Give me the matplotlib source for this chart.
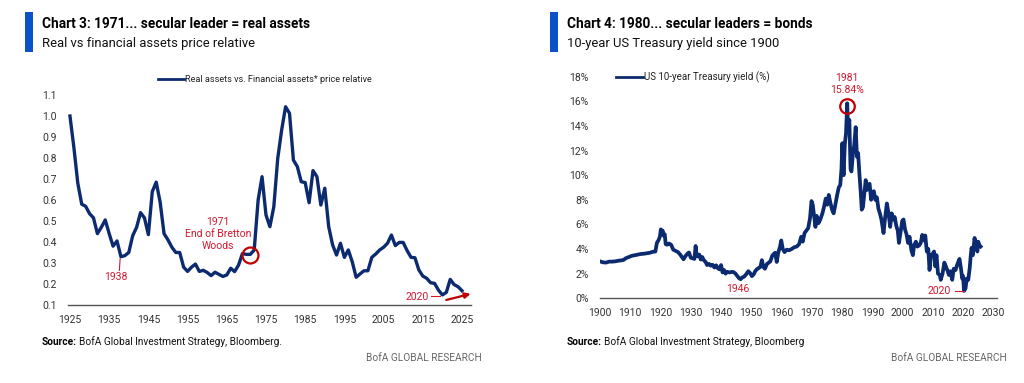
#!/usr/bin/env python3
"""Two-panel BofA style chart: real vs financial assets, and US 10y yield."""

import matplotlib
matplotlib.use("Agg")
import matplotlib.pyplot as plt
from matplotlib.lines import Line2D
from matplotlib.patches import Rectangle

plt.rcParams["font.family"] = ["Roboto", "DejaVu Sans"]

# ──────────────────────────────────────────────────────────────────────────
# Data
# ──────────────────────────────────────────────────────────────────────────
ra_years = list(range(1925, 2026))
ra_values = [
    1.00, 0.85, 0.68, 0.58, 0.57, 0.535, 0.515, 0.44, 0.47, 0.505,    # 1925-34
    0.44, 0.38, 0.405, 0.33, 0.335, 0.35, 0.43, 0.47, 0.54, 0.515,    # 1935-44
    0.435, 0.64, 0.685, 0.59, 0.44, 0.41, 0.375, 0.35, 0.35, 0.28,    # 1945-54
    0.26, 0.28, 0.295, 0.26, 0.265, 0.255, 0.24, 0.256, 0.246, 0.236,  # 1955-64
    0.243, 0.275, 0.259, 0.29, 0.345, 0.341, 0.341, 0.362, 0.60, 0.711,  # 1965-74
    0.529, 0.473, 0.568, 0.798, 0.933, 1.044, 1.013, 0.79, 0.759, 0.687,  # 1975-84
    0.683, 0.587, 0.74, 0.711, 0.576, 0.656, 0.473, 0.386, 0.338, 0.394,  # 1985-94
    0.327, 0.362, 0.306, 0.232, 0.248, 0.263, 0.263, 0.327, 0.343, 0.362,  # 1995-04
    0.375, 0.394, 0.433, 0.383, 0.398, 0.398, 0.359, 0.327, 0.325, 0.267,  # 2005-14
    0.238, 0.227, 0.206, 0.203, 0.171, 0.148, 0.16, 0.222, 0.197, 0.187,  # 2015-24
    0.168,                                                                # 2025
]
ra_yticks = [0.1, 0.2, 0.3, 0.4, 0.5, 0.6, 0.7, 0.8, 0.9, 1.0, 1.1]
ra_xticks = list(range(1925, 2026, 10))

ust_years = [
    1900.0, 1901.0, 1902.0, 1903.0, 1904.0, 1905.0, 1906.0, 1907.0, 1907.8, 1908.5,
    1909.5, 1910.5, 1911.5, 1912.5, 1913.5, 1914.5, 1915.5, 1916.5, 1917.5, 1918.3,
    1918.8, 1919.3, 1919.8, 1920.1, 1920.4, 1920.7, 1921.0, 1921.4, 1921.7, 1922.2,
    1922.8, 1923.5, 1924.2, 1925.0, 1925.8, 1926.5, 1927.2, 1927.6, 1928.3, 1929.0,
    1929.4, 1930.0, 1930.6, 1931.2, 1931.6, 1931.9, 1932.3, 1932.8, 1933.3, 1933.8,
    1934.3, 1934.9, 1935.4, 1936.0, 1936.6, 1937.2, 1937.8, 1938.4, 1938.9, 1939.5,
    1940.0, 1940.5, 1941.0, 1941.5, 1942.0, 1942.8, 1943.5, 1944.2, 1944.8, 1945.4,
    1946.0, 1946.5, 1947.0, 1947.6, 1948.3, 1949.0, 1949.6, 1950.2, 1950.8, 1951.3,
    1951.8, 1952.4, 1953.0, 1953.5, 1954.0, 1954.5, 1955.2, 1955.8, 1956.3, 1956.9,
    1957.4, 1957.9, 1958.4, 1958.9, 1959.5, 1959.9, 1960.4, 1961.0, 1961.7, 1962.5,
    1963.3, 1964.2, 1965.0, 1965.8, 1966.5, 1967.0, 1967.6, 1968.2, 1968.8, 1969.4,
    1969.9, 1970.3, 1970.8, 1971.2, 1971.6, 1972.2, 1972.8, 1973.5, 1974.0, 1974.6,
    1975.1, 1975.6, 1976.1, 1976.7, 1977.2, 1977.7, 1978.3, 1978.9, 1979.4, 1979.8,
    1980.1, 1980.5, 1980.9, 1981.3, 1981.7, 1982.0, 1982.4, 1982.8, 1983.1, 1983.6,
    1984.0, 1984.5, 1984.9, 1985.3, 1985.7, 1986.2, 1986.5, 1986.9, 1987.3, 1987.8,
    1988.2, 1988.7, 1989.1, 1989.6, 1990.1, 1990.5, 1991.0, 1991.5, 1992.0, 1992.6,
    1993.0, 1993.7, 1994.2, 1994.8, 1995.3, 1995.9, 1996.4, 1996.9, 1997.4, 1997.9,
    1998.4, 1998.8, 1999.3, 1999.9, 2000.3, 2000.8, 2001.3, 2001.8, 2002.3, 2002.9,
    2003.4, 2003.8, 2004.4, 2004.9, 2005.5, 2006.0, 2006.5, 2007.0, 2007.5, 2008.0,
    2008.5, 2008.9, 2009.4, 2009.9, 2010.4, 2010.8, 2011.2, 2011.7, 2012.3, 2012.6,
    2013.2, 2013.8, 2014.3, 2014.9, 2015.3, 2015.8, 2016.4, 2016.9, 2017.5, 2018.0,
    2018.8, 2019.3, 2019.7, 2020.0, 2020.3, 2020.8, 2021.2, 2021.7, 2022.2, 2022.5,
    2022.8, 2023.2, 2023.8, 2024.1, 2024.4, 2024.7, 2025.0, 2025.4, 2025.8,
]
ust_yield = [
    3.00, 2.92, 2.90, 2.98, 2.98, 3.00, 3.05, 3.08, 3.12, 3.25,
    3.35, 3.45, 3.50, 3.55, 3.60, 3.62, 3.66, 3.70, 3.78, 3.80,
    4.50, 4.70, 5.00, 5.60, 5.30, 5.50, 5.10, 5.20, 4.40, 4.35,
    4.45, 4.35, 3.95, 3.85, 3.75, 3.55, 3.30, 3.17, 3.45, 3.65,
    3.72, 3.30, 3.25, 3.20, 4.25, 3.60, 3.40, 3.55, 3.15, 3.35,
    3.10, 2.95, 2.70, 2.80, 2.65, 2.72, 2.50, 2.68, 2.45, 2.35,
    2.70, 2.10, 2.30, 2.00, 2.15, 2.10, 2.15, 2.12, 2.00, 1.80,
    1.62, 1.55, 1.70, 1.75, 1.95, 2.20, 2.05, 1.80, 1.95, 2.20,
    2.35, 2.45, 2.55, 3.10, 2.55, 2.40, 2.80, 2.90, 3.00, 3.45,
    3.60, 3.70, 2.95, 3.70, 4.20, 4.70, 4.00, 3.75, 3.95, 3.90,
    4.00, 4.15, 4.20, 4.40, 5.00, 4.60, 5.30, 5.50, 5.70, 6.50,
    7.90, 7.60, 6.60, 5.80, 6.70, 6.10, 6.40, 6.90, 7.40, 8.10,
    7.60, 8.40, 7.80, 7.20, 6.90, 7.50, 8.30, 9.00, 9.20, 10.50,
    12.60, 10.00, 12.50, 13.40, 15.84, 13.50, 14.50, 10.50, 10.30, 11.80,
    12.40, 13.90, 11.50, 11.80, 10.20, 8.50, 7.20, 7.40, 8.40, 9.60,
    8.80, 9.20, 9.30, 8.00, 8.60, 8.70, 8.00, 8.20, 7.30, 6.80,
    6.40, 5.30, 6.50, 7.70, 7.00, 5.80, 6.90, 6.40, 6.60, 5.90,
    5.50, 4.50, 5.30, 6.30, 6.40, 5.60, 5.20, 4.50, 5.00, 3.90,
    3.50, 4.30, 4.60, 4.20, 4.30, 4.50, 5.15, 4.70, 5.10, 3.80,
    4.00, 2.30, 3.50, 3.60, 3.80, 2.60, 3.50, 2.00, 1.90, 1.50,
    2.00, 2.90, 2.60, 2.20, 1.90, 2.20, 1.50, 2.40, 2.30, 2.70,
    3.20, 2.40, 1.60, 1.80, 0.60, 0.80, 1.60, 1.50, 2.50, 3.40,
    4.10, 3.50, 4.90, 4.00, 4.60, 3.80, 4.60, 4.30, 4.20,
]
ust_yticks = list(range(0, 19, 2))
ust_xticks = list(range(1900, 2031, 10))

# ──────────────────────────────────────────────────────────────────────────
# Styling
# ──────────────────────────────────────────────────────────────────────────
NAVY = "#0B2A6F"
RED_TXT = "#D2182F"
RED_CIRC = "#C00000"
BAR_BLUE = "#0B52C9"
TICK_C = "#333333"
AXIS_C = "#555555"
W, H = 1024, 383


def fx(px):
    return px / W


def fy(py):
    return 1 - py / H


def style_axes(ax, pad_y):
    for side in ("top", "right", "left"):
        ax.spines[side].set_visible(False)
    ax.spines["bottom"].set_color(AXIS_C)
    ax.spines["bottom"].set_linewidth(1.0)
    ax.tick_params(axis="both", length=0, labelsize=7.5, colors=TICK_C)
    ax.tick_params(axis="y", pad=pad_y)
    ax.tick_params(axis="x", pad=7)
    ax.patch.set_alpha(0)


def header(fig, x_bar, x_text, title, subtitle):
    fig.add_artist(Rectangle((fx(x_bar), fy(52)), fx(8), 40 / H,
                             color=BAR_BLUE, transform=fig.transFigure, lw=0))
    fig.text(fx(x_text), fy(24), title, fontsize=9.8, weight="bold",
             color="black", va="center")
    fig.text(fx(x_text), fy(44), subtitle, fontsize=9.4, color="#111111",
             va="center")


def footer(fig, renderer, x_text, x_right, rest):
    t = fig.text(fx(x_text), fy(342), "Source:", fontsize=7.3, weight="bold",
                 va="center")
    bb = t.get_window_extent(renderer)
    fig.text(fx(bb.x1 + 2), fy(342), rest, fontsize=7.3, va="center",
             color="#111111")
    fig.text(fx(x_right), fy(358), "BofA GLOBAL RESEARCH", fontsize=7.3,
             color="#666666", ha="right", va="center")


def legend_line(fig, x0, x1, y, label, size):
    fig.add_artist(Line2D([fx(x0), fx(x1)], [fy(y), fy(y)], color=NAVY,
                          lw=2, transform=fig.transFigure))
    fig.text(fx(x1 + 1), fy(y), label, fontsize=size, color="#222222",
             va="center")


fig = plt.figure(figsize=(W / 100, H / 100), dpi=100)
fig.patch.set_facecolor("white")
renderer = fig.canvas.get_renderer()

# ──────────────────────────────────────────────────────────────────────────
# Chart 3
# ──────────────────────────────────────────────────────────────────────────
ax1 = fig.add_axes([fx(68), fy(305), (471 - 68) / W, 210 / H])
ax1.plot(ra_years, ra_values, color=NAVY, lw=2.4, solid_joinstyle="round")
ax1.set_ylim(0.1, 1.1)
ax1.set_xlim(1924.5, 2027.3)
ax1.set_yticks(ra_yticks)
ax1.set_yticklabels([f"{v:.1f}" for v in ra_yticks])
ax1.set_xticks(ra_xticks)
style_axes(ax1, pad_y=8)

i71 = ra_years.index(1971)
ax1.plot(ra_years[i71], ra_values[i71] - 0.004, "o", ms=11.5, mfc="none",
         mec=RED_CIRC, mew=1.6, clip_on=False)
ax1.text(1962.7, 0.438, "1971\nEnd of Bretton\nWoods", color=RED_TXT,
         fontsize=7.5, ha="center", va="center", linespacing=1.3)
i38 = ra_years.index(1938)
ax1.plot([1937.6, ra_years[i38] - 0.2], [0.265, ra_values[i38] - 0.01],
         color=RED_TXT, lw=0.8)
ax1.text(1936.8, 0.232, "1938", color=RED_TXT, fontsize=7.5, ha="center",
         va="center")
ax1.text(2013.6, 0.138, "2020", color=RED_TXT, fontsize=7.5, ha="center",
         va="center")
ax1.plot([2017.2, 2019.4], [0.141, 0.141], color=RED_TXT, lw=0.8)
ax1.annotate("", xy=(2027.2, 0.153), xytext=(2021.0, 0.124),
             arrowprops=dict(arrowstyle="-|>", color=RED_CIRC, lw=1.6,
                             mutation_scale=8, shrinkA=0, shrinkB=0),
             annotation_clip=False)

legend_line(fig, 158, 184, 79,
            "Real assets vs. Financial assets* price relative", 6.6)
header(fig, 25, 42, "Chart 3: 1971... secular leader = real assets",
       "Real vs financial assets price relative")
footer(fig, renderer, 42, 482, "BofA Global Investment Strategy, Bloomberg.")

# ──────────────────────────────────────────────────────────────────────────
# Chart 4
# ──────────────────────────────────────────────────────────────────────────
ax2 = fig.add_axes([fx(600), fy(298.3), 397 / W, 221.6 / H])
ax2.plot(ust_years, ust_yield, color=NAVY, lw=2.7, solid_joinstyle="round")
ax2.set_ylim(0, 18)
ax2.set_xlim(1900, 2031.2)
ax2.set_yticks(ust_yticks)
ax2.set_yticklabels([f"{v}%" for v in ust_yticks])
ax2.set_xticks(ust_xticks)
style_axes(ax2, pad_y=8)

ipk = ust_yield.index(max(ust_yield))
ax2.plot(ust_years[ipk], ust_yield[ipk] - 0.2, "o", ms=10.5, mfc="none",
         mec=RED_CIRC, mew=1.6, clip_on=False)
ax2.text(ust_years[ipk], 17.4, "1981\n15.84%", color=RED_TXT, fontsize=7.5,
         ha="center", va="center", linespacing=1.35)
ax2.text(1945.5, 0.75, "1946", color=RED_TXT, fontsize=7.5, ha="center",
         va="center")
ax2.text(2012.2, 0.6, "2020", color=RED_TXT, fontsize=7.5, ha="center",
         va="center")
ax2.plot([2017.2, 2020.4], [0.6, 0.6], color=RED_TXT, lw=0.8)

legend_line(fig, 616, 643, 77, "US 10-year Treasury yield (%)", 7)
header(fig, 550, 567, "Chart 4: 1980... secular leaders = bonds",
       "10-year US Treasury yield since 1900")
footer(fig, renderer, 567, 1007, "BofA Global Investment Strategy, Bloomberg")

fig.savefig("out.png", dpi=100, facecolor="white")
